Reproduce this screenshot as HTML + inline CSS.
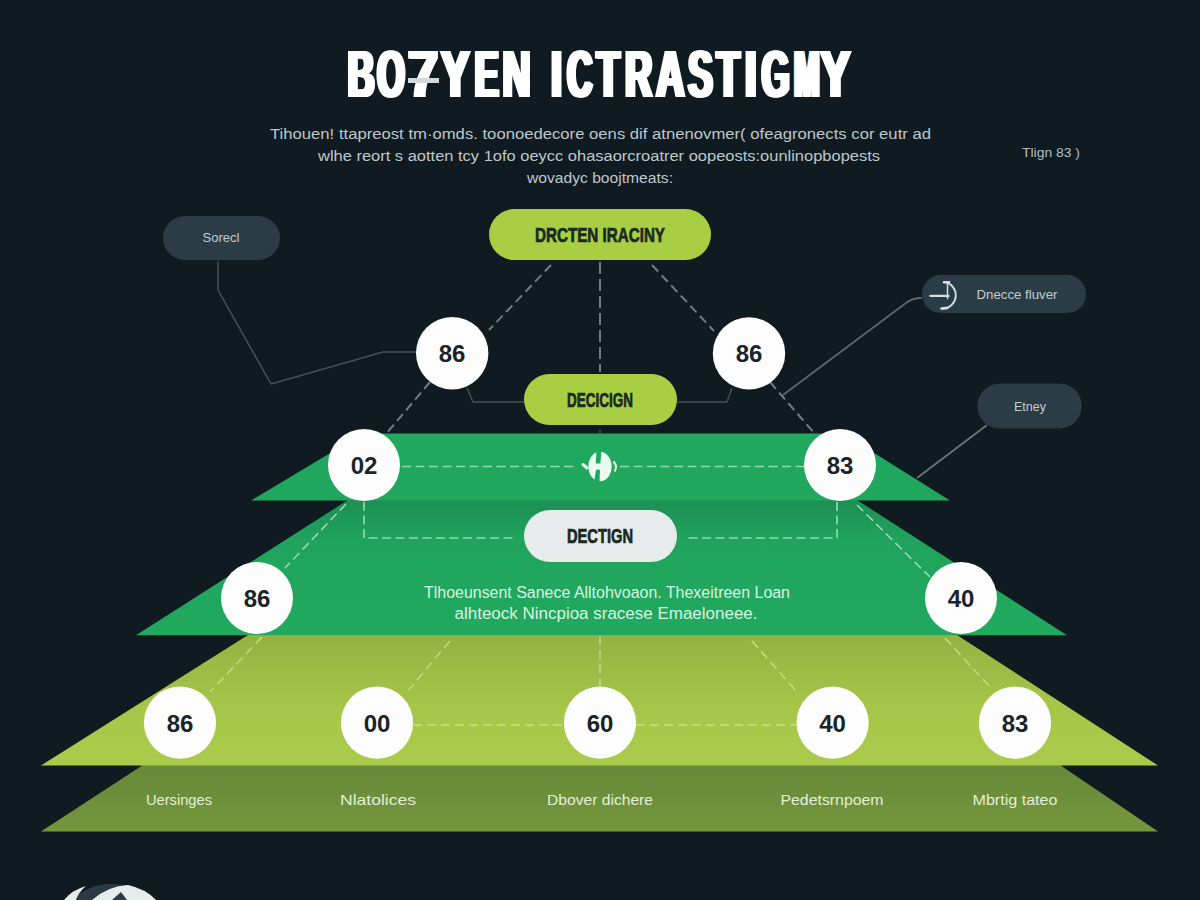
<!DOCTYPE html>
<html>
<head>
<meta charset="utf-8">
<title>Diagram</title>
<style>
html,body{margin:0;padding:0;background:#0f1b21;}
body{width:1200px;height:900px;overflow:hidden;font-family:"Liberation Sans",sans-serif;}
svg{display:block;}
text{font-family:"Liberation Sans",sans-serif;}
</style>
</head>
<body>
<svg width="1200" height="900" viewBox="0 0 1200 900">
<defs>
  <linearGradient id="gOlive" x1="0" y1="0" x2="0" y2="1">
    <stop offset="0" stop-color="#66883a"/><stop offset="1" stop-color="#74973c"/>
  </linearGradient>
  <linearGradient id="gLime" x1="0" y1="0" x2="0" y2="1">
    <stop offset="0" stop-color="#92b342"/><stop offset="0.55" stop-color="#a5c648"/><stop offset="1" stop-color="#aacb4a"/>
  </linearGradient>
  <linearGradient id="gG2" x1="0" y1="0" x2="0" y2="1">
    <stop offset="0" stop-color="#1c8f52"/><stop offset="0.3" stop-color="#20a45d"/><stop offset="1" stop-color="#21a95f"/>
  </linearGradient>
  <linearGradient id="gG1" x1="0" y1="0" x2="0" y2="1">
    <stop offset="0" stop-color="#21a95f"/><stop offset="1" stop-color="#20a65d"/>
  </linearGradient>
  <filter id="fat" x="-5%" y="-20%" width="110%" height="140%"><feMorphology operator="dilate" radius="2 0.6"/></filter>
  <filter id="fat2" x="-5%" y="-20%" width="110%" height="140%"><feMorphology operator="dilate" radius="0.6 0.2"/></filter>
</defs>
<rect width="1200" height="900" fill="#0f1b21"/>

<!-- layers -->
<polygon points="41,831.5 143,765 1060,765 1158,831.5" fill="url(#gOlive)"/>
<polygon points="41,765.5 248,635 957,635 1158,765.5" fill="url(#gLime)"/>
<polygon points="136,635.3 348,500 857,500 1067,635.3" fill="url(#gG2)"/>
<polygon points="251,500.5 363,433.4 843,433.4 950,500.5" fill="url(#gG1)"/>

<!-- thin connectors -->
<g fill="none" stroke="#435158" stroke-width="1.5" stroke-linejoin="round">
  <polyline points="218,261 218,290 271,384 383,352 417,352"/>
  <polyline points="467,388 473,402 524,402"/>
  <polyline points="732,388 727,402 677,402"/>
  <path d="M922,298 Q912,298 906,303 L783,395" stroke="#59666c" stroke-width="1.8"/>
  <polyline points="987,425 917,478" stroke="#6c777b" stroke-width="1.7"/>
</g>

<!-- dashed dark -->
<g fill="none" stroke="#6f7d83" stroke-width="2" stroke-dasharray="9 5">
  <line x1="600" y1="262" x2="600" y2="372" stroke-dasharray="12 5"/>
  <line x1="551" y1="265" x2="489" y2="330"/>
  <line x1="652" y1="265" x2="714" y2="331"/>
  <line x1="430" y1="382" x2="386" y2="434"/>
  <line x1="770" y1="382" x2="815" y2="434"/>
  <line x1="600" y1="430" x2="600" y2="433" stroke="#3c4a50" stroke-dasharray="none"/>
</g>
<!-- dashed on green -->
<g fill="none" stroke="#93d8b0" stroke-width="1.7" stroke-dasharray="9 4.5">
  <line x1="402" y1="466.5" x2="577" y2="466.5"/>
  <line x1="620" y1="466.5" x2="804" y2="466.5"/>
  <polyline points="364,502 364,538 517,538"/>
  <polyline points="837,502 837,538 684,538"/>
  <line x1="346" y1="504" x2="285" y2="568" stroke="#a8dfc0" stroke-width="1.4"/>
  <line x1="857" y1="505" x2="930" y2="577" stroke="#a8dfc0" stroke-width="1.4"/>
</g>
<!-- dashed on lime -->
<g fill="none" stroke="#c9de90" stroke-width="1.3" stroke-dasharray="9 5">
  <line x1="262" y1="637" x2="210" y2="692"/>
  <line x1="450" y1="641" x2="407" y2="692"/>
  <line x1="752" y1="641" x2="797" y2="692"/>
  <line x1="945" y1="638" x2="990" y2="687"/>
  <line x1="600" y1="636" x2="600" y2="686"/>
  <line x1="413" y1="725" x2="564" y2="725"/>
  <line x1="636" y1="725" x2="796" y2="725"/>
</g>

<!-- pills -->
<rect x="489" y="209" width="222" height="51" rx="25.5" fill="#a8cf43"/>
<rect x="524" y="374" width="153" height="51" rx="25.5" fill="#a8cf43"/>
<rect x="524" y="510" width="153" height="52" rx="26" fill="#e8ebeb"/>
<rect x="163" y="216" width="117" height="44" rx="22" fill="#2b3c44"/>
<rect x="922" y="275" width="164" height="38" rx="19" fill="#2a3d46"/>
<rect x="977.3" y="383.5" width="104.5" height="45" rx="22.5" fill="#2b3c44"/>

<!-- circles -->
<g fill="#fdfdfd">
  <circle cx="452.2" cy="353.2" r="36.2"/><circle cx="749" cy="353.4" r="36.2"/>
  <circle cx="364" cy="465" r="36"/><circle cx="840" cy="465" r="36"/>
  <circle cx="257" cy="598" r="36"/><circle cx="961" cy="598" r="36"/>
  <circle cx="180" cy="722.7" r="36.1"/><circle cx="377" cy="722.7" r="36.1"/><circle cx="600" cy="722.7" r="36.1"/><circle cx="832.6" cy="722.7" r="36.1"/><circle cx="1015" cy="722.7" r="36.1"/>
</g>
<g font-weight="bold" font-size="24" fill="#18232a" text-anchor="middle">
  <text x="452" y="362">86</text><text x="749" y="362">86</text>
  <text x="364" y="474">02</text><text x="840" y="474">83</text>
  <text x="257" y="607">86</text><text x="961" y="607">40</text>
  <text x="180" y="731.5">86</text><text x="377" y="731.5">00</text><text x="600" y="731.5">60</text><text x="832.6" y="731.5">40</text><text x="1015" y="731.5">83</text>
</g>

<!-- center icon -->
<g transform="translate(600,466.5)">
  <ellipse rx="11.6" ry="14.8" fill="#e9fbf0"/>
  <path d="M-3.5,-16 L1.5,-16 L0.3,-3 L-4.3,-3 Z M-4,3.2 L0,3.2 L-0.5,16 L-6,16 Z" fill="#21a85f"/>
  <path d="M-17,-2 L-13,1.5" stroke="#e9fbf0" stroke-width="3" stroke-linecap="round"/>
  <path d="M13.5,-5 Q18,0 14.5,5" stroke="#e9fbf0" stroke-width="2" fill="none"/>
</g>

<!-- title -->
<g transform="translate(-2.2,0)"><g font-weight="bold" font-size="67" fill="#ffffff">
  <text transform="translate(347.7,97.3) scale(0.553,1)">B</text>
  <text transform="translate(377.2,97.3) scale(0.528,1)">O</text>
  <text transform="translate(407.9,97.3) scale(0.814,1)">7</text>
  <text transform="translate(441.0,97.3) scale(0.638,1)">Y</text>
  <text transform="translate(474.8,97.3) scale(0.535,1)">E</text>
  <text transform="translate(502.6,97.3) scale(0.574,1)">N</text>
  <text transform="translate(551.1,97.3) scale(0.580,1)">I</text>
  <text transform="translate(567.3,97.3) scale(0.516,1)">C</text>
  <text transform="translate(596.8,97.3) scale(0.560,1)">T</text>
  <text transform="translate(625.2,97.3) scale(0.555,1)">R</text>
  <text transform="translate(656.2,97.3) scale(0.581,1)">A</text>
  <text transform="translate(688.1,97.3) scale(0.551,1)">S</text>
  <text transform="translate(716.8,97.3) scale(0.560,1)">T</text>
  <text transform="translate(744.9,97.3) scale(0.632,1)">I</text>
  <text transform="translate(761.7,97.3) scale(0.533,1)">G</text>
  <text transform="translate(794.2,97.3) scale(0.450,1)">M</text>
  <text transform="translate(820.4,97.3) scale(0.674,1)">Y</text>
</g></g>
<g transform="translate(-1.1,0)"><g font-weight="bold" font-size="67" fill="#ffffff">
  <text transform="translate(347.7,97.3) scale(0.553,1)">B</text>
  <text transform="translate(377.2,97.3) scale(0.528,1)">O</text>
  <text transform="translate(407.9,97.3) scale(0.814,1)">7</text>
  <text transform="translate(441.0,97.3) scale(0.638,1)">Y</text>
  <text transform="translate(474.8,97.3) scale(0.535,1)">E</text>
  <text transform="translate(502.6,97.3) scale(0.574,1)">N</text>
  <text transform="translate(551.1,97.3) scale(0.580,1)">I</text>
  <text transform="translate(567.3,97.3) scale(0.516,1)">C</text>
  <text transform="translate(596.8,97.3) scale(0.560,1)">T</text>
  <text transform="translate(625.2,97.3) scale(0.555,1)">R</text>
  <text transform="translate(656.2,97.3) scale(0.581,1)">A</text>
  <text transform="translate(688.1,97.3) scale(0.551,1)">S</text>
  <text transform="translate(716.8,97.3) scale(0.560,1)">T</text>
  <text transform="translate(744.9,97.3) scale(0.632,1)">I</text>
  <text transform="translate(761.7,97.3) scale(0.533,1)">G</text>
  <text transform="translate(794.2,97.3) scale(0.450,1)">M</text>
  <text transform="translate(820.4,97.3) scale(0.674,1)">Y</text>
</g></g>
<g transform="translate(0,0)"><g font-weight="bold" font-size="67" fill="#ffffff">
  <text transform="translate(347.7,97.3) scale(0.553,1)">B</text>
  <text transform="translate(377.2,97.3) scale(0.528,1)">O</text>
  <text transform="translate(407.9,97.3) scale(0.814,1)">7</text>
  <text transform="translate(441.0,97.3) scale(0.638,1)">Y</text>
  <text transform="translate(474.8,97.3) scale(0.535,1)">E</text>
  <text transform="translate(502.6,97.3) scale(0.574,1)">N</text>
  <text transform="translate(551.1,97.3) scale(0.580,1)">I</text>
  <text transform="translate(567.3,97.3) scale(0.516,1)">C</text>
  <text transform="translate(596.8,97.3) scale(0.560,1)">T</text>
  <text transform="translate(625.2,97.3) scale(0.555,1)">R</text>
  <text transform="translate(656.2,97.3) scale(0.581,1)">A</text>
  <text transform="translate(688.1,97.3) scale(0.551,1)">S</text>
  <text transform="translate(716.8,97.3) scale(0.560,1)">T</text>
  <text transform="translate(744.9,97.3) scale(0.632,1)">I</text>
  <text transform="translate(761.7,97.3) scale(0.533,1)">G</text>
  <text transform="translate(794.2,97.3) scale(0.450,1)">M</text>
  <text transform="translate(820.4,97.3) scale(0.674,1)">Y</text>
</g></g>
<g transform="translate(1.1,0)"><g font-weight="bold" font-size="67" fill="#ffffff">
  <text transform="translate(347.7,97.3) scale(0.553,1)">B</text>
  <text transform="translate(377.2,97.3) scale(0.528,1)">O</text>
  <text transform="translate(407.9,97.3) scale(0.814,1)">7</text>
  <text transform="translate(441.0,97.3) scale(0.638,1)">Y</text>
  <text transform="translate(474.8,97.3) scale(0.535,1)">E</text>
  <text transform="translate(502.6,97.3) scale(0.574,1)">N</text>
  <text transform="translate(551.1,97.3) scale(0.580,1)">I</text>
  <text transform="translate(567.3,97.3) scale(0.516,1)">C</text>
  <text transform="translate(596.8,97.3) scale(0.560,1)">T</text>
  <text transform="translate(625.2,97.3) scale(0.555,1)">R</text>
  <text transform="translate(656.2,97.3) scale(0.581,1)">A</text>
  <text transform="translate(688.1,97.3) scale(0.551,1)">S</text>
  <text transform="translate(716.8,97.3) scale(0.560,1)">T</text>
  <text transform="translate(744.9,97.3) scale(0.632,1)">I</text>
  <text transform="translate(761.7,97.3) scale(0.533,1)">G</text>
  <text transform="translate(794.2,97.3) scale(0.450,1)">M</text>
  <text transform="translate(820.4,97.3) scale(0.674,1)">Y</text>
</g></g>
<g transform="translate(2.2,0)"><g font-weight="bold" font-size="67" fill="#ffffff">
  <text transform="translate(347.7,97.3) scale(0.553,1)">B</text>
  <text transform="translate(377.2,97.3) scale(0.528,1)">O</text>
  <text transform="translate(407.9,97.3) scale(0.814,1)">7</text>
  <text transform="translate(441.0,97.3) scale(0.638,1)">Y</text>
  <text transform="translate(474.8,97.3) scale(0.535,1)">E</text>
  <text transform="translate(502.6,97.3) scale(0.574,1)">N</text>
  <text transform="translate(551.1,97.3) scale(0.580,1)">I</text>
  <text transform="translate(567.3,97.3) scale(0.516,1)">C</text>
  <text transform="translate(596.8,97.3) scale(0.560,1)">T</text>
  <text transform="translate(625.2,97.3) scale(0.555,1)">R</text>
  <text transform="translate(656.2,97.3) scale(0.581,1)">A</text>
  <text transform="translate(688.1,97.3) scale(0.551,1)">S</text>
  <text transform="translate(716.8,97.3) scale(0.560,1)">T</text>
  <text transform="translate(744.9,97.3) scale(0.632,1)">I</text>
  <text transform="translate(761.7,97.3) scale(0.533,1)">G</text>
  <text transform="translate(794.2,97.3) scale(0.450,1)">M</text>
  <text transform="translate(820.4,97.3) scale(0.674,1)">Y</text>
</g></g>
<rect x="408" y="78" width="31" height="5" fill="#d3d8db"/>
<!-- subtitle -->
<g font-size="15.2" fill="#bec7cb" text-anchor="middle">
  <text x="600.5" y="139" textLength="661" lengthAdjust="spacingAndGlyphs">Tihouen! ttapreost tm·omds. toonoedecore oens dif atnenovmer( ofeagronects cor eutr ad</text>
  <text x="599" y="161" textLength="562" lengthAdjust="spacingAndGlyphs">wlhe reort s aotten tcy 1ofo oeycc ohasaorcroatrer oopeosts:ounlinopbopests</text>
  <text x="600" y="183" textLength="146" lengthAdjust="spacingAndGlyphs">wovadyc boojtmeats:</text>
</g>
<text x="1051" y="157" font-size="13" fill="#b5bec2" text-anchor="middle" textLength="58" lengthAdjust="spacingAndGlyphs">Tlign 83 )</text>

<!-- pill labels -->
<g font-weight="bold" font-size="19.5" fill="#1a2a22" stroke="#1a2a22" stroke-width="0.7" text-anchor="middle">
  <text x="600" y="241.5" textLength="130" lengthAdjust="spacingAndGlyphs">DRCTEN IRACINY</text>
  <text x="600" y="406.5" textLength="66" lengthAdjust="spacingAndGlyphs">DECICIGN</text>
  <text x="600" y="543" textLength="66" lengthAdjust="spacingAndGlyphs">DECTIGN</text>
</g>
<g font-size="12" fill="#c3ccd0" text-anchor="middle">
  <text x="221" y="242" textLength="37" lengthAdjust="spacingAndGlyphs">Sorecl</text>
  <text x="1017" y="298.5" textLength="81" lengthAdjust="spacingAndGlyphs">Dnecce fluver</text>
  <text x="1030" y="411" textLength="32" lengthAdjust="spacingAndGlyphs">Etney</text>
</g>
<!-- small icon in pill -->
<g transform="translate(945,295.5)" fill="none" stroke="#d9dfe1" stroke-linecap="round">
  <path d="M0,-13.3 A13.4,13.4 0 0 1 -1.5,13.2" stroke-width="1.8"/>
  <path d="M-14.5,0.4 L3.5,0.4" stroke-width="2.3"/>
  <path d="M2.5,-12.5 L2.5,3" stroke-width="1.5"/>
  <path d="M-1,-13.3 L4,-13.3 M-3.5,13 L2.5,12.4" stroke-width="2.6"/>
</g>

<!-- green text -->
<g font-size="16" fill="#d9f3e2" text-anchor="middle">
  <text x="607" y="598" textLength="366" lengthAdjust="spacingAndGlyphs">Tlhoeunsent Sanece Alltohvoaon. Thexeitreen Loan</text>
  <text x="606" y="619" textLength="303" lengthAdjust="spacingAndGlyphs">alhteock Nincpioa sracese Emaeloneee.</text>
</g>
<!-- bottom labels -->
<g font-size="14.5" fill="#e6eed6" text-anchor="middle">
  <text x="179" y="805" textLength="66" lengthAdjust="spacingAndGlyphs">Uersinges</text>
  <text x="378" y="805" textLength="76" lengthAdjust="spacingAndGlyphs">Nlatolices</text>
  <text x="600" y="805" textLength="106" lengthAdjust="spacingAndGlyphs">Dbover dichere</text>
  <text x="832" y="805" textLength="103" lengthAdjust="spacingAndGlyphs">Pedetsrnpoem</text>
  <text x="1015" y="805" textLength="85" lengthAdjust="spacingAndGlyphs">Mbrtig tateo</text>
</g>

<!-- logo bottom-left -->
<g>
  <circle cx="111" cy="939" r="55" fill="#2c3b43"/>
  <path d="M64,900 Q72,890 86,886 Q78,893 76,900 Z" fill="#e6ebec"/>
  <path d="M92,900 Q108,886 128,885 Q146,889 156,900 Z" fill="#e6ebec"/>
  <path d="M112,900 L121,892 L127,900 Z" fill="#2c3b43"/>
</g>
</svg>
</body>
</html>
